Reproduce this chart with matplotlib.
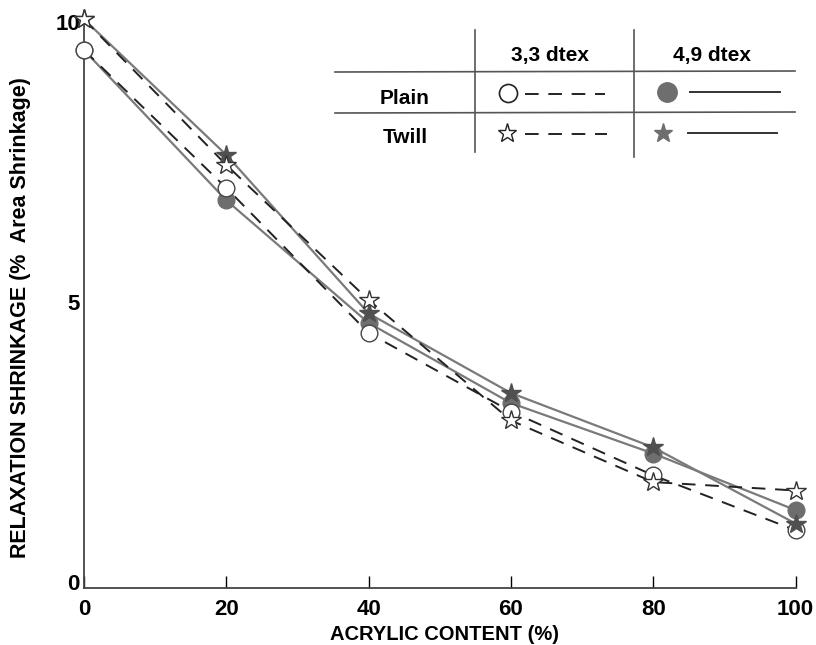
import numpy as np
import matplotlib
matplotlib.use('Agg')
import matplotlib.pyplot as plt
from matplotlib.lines import Line2D

plt.rcParams['font.family'] = ['Liberation Sans', 'DejaVu Sans']
plt.rcParams['font.weight'] = 'bold'

# データ
acrylic = [0, 20, 40, 60, 80, 100]
plain_33 = [9.5, 7.04, 4.45, 3.05, 1.91, 0.93]
plain_49 = [9.5, 6.82, 4.63, 3.20, 2.30, 1.29]
twill_33 = [10.05, 7.45, 5.04, 2.89, 1.79, 1.64]
twill_49 = [10.05, 7.63, 4.80, 3.38, 2.41, 1.05]

xticks = [0, 20, 40, 60, 80, 100]
yticks = [0, 5, 10]

GREY = '#6e6e6e'
LGREY = '#7a7a7a'
DASH = (7, 5)

fig = plt.figure(figsize=(8.16, 6.45), dpi=100)
ax = fig.add_axes([0.103, 0.0884, 0.872, 0.8946])

# 線 (4,9 dtex は実線・灰色, 3,3 dtex は破線・黒)
ax.plot(acrylic, plain_49, '-', color=LGREY, lw=1.6, zorder=2)
ax.plot(acrylic, twill_49, '-', color=LGREY, lw=1.6, zorder=2)
ax.plot(acrylic, plain_33, '--', color='#222222', lw=1.4, dashes=DASH, zorder=2)
ax.plot(acrylic, twill_33, '--', color='#222222', lw=1.4, dashes=DASH, zorder=2)

# マーカー
ax.plot(acrylic, plain_49, 'o', ms=12, mfc=GREY, mec=GREY, ls='none', zorder=3, clip_on=False)
ax.plot(acrylic, twill_49, '*', ms=15, mfc='#505050', mec='#505050', ls='none', zorder=4, clip_on=False)
ax.plot(acrylic, plain_33, 'o', ms=12, mfc='white', mec='#444444', mew=1.0, ls='none', zorder=3.5, clip_on=False)
ax.plot(acrylic, twill_33, '*', ms=15, mfc='white', mec='#333333', mew=1.0, ls='none', zorder=5, clip_on=False)

# 範囲・目盛り
ax.set_xlim(0, 100)
ax.set_ylim(-0.1, 10.2)
ax.set_xticks(xticks)
ax.set_yticks(yticks)
ax.tick_params(axis='x', direction='in', length=9, width=1, labelsize=16, pad=8)
ax.tick_params(axis='y', length=0, labelsize=16, pad=3)
for s in ['top', 'right']:
    ax.spines[s].set_visible(False)
for s in ['left', 'bottom']:
    ax.spines[s].set_color('#444444')
    ax.spines[s].set_linewidth(1.3)

# ラベル
W, H = 816, 645
fig.text(445 / W, 1 - 634 / H, 'ACRYLIC CONTENT (%)', ha='center', va='center',
         fontsize=14.5, fontweight='bold')
ax.set_ylabel('RELAXATION SHRINKAGE (%  Area Shrinkage)', fontsize=15.5,
              fontweight='bold', va='center')
ax.yaxis.set_label_coords(-0.09, 0.468)

# 凡例 (表形式)
t = fig.transFigure
fig.add_artist(Line2D([335 / W, 795 / W], [1 - 72 / H, 1 - 71 / H], color='#555555', lw=1.2, transform=t))
fig.add_artist(Line2D([335 / W, 795 / W], [1 - 113 / H, 1 - 112 / H], color='#555555', lw=1.2, transform=t))
fig.add_artist(Line2D([475 / W, 475 / W], [1 - 30 / H, 1 - 152 / H], color='#555555', lw=1.2, transform=t))
fig.add_artist(Line2D([634 / W, 634 / W], [1 - 30 / H, 1 - 157 / H], color='#555555', lw=1.2, transform=t))

fig.text(550 / W, 1 - 55 / H, '3,3 dtex', ha='center', va='center', fontsize=15, fontweight='bold')
fig.text(712 / W, 1 - 55 / H, '4,9 dtex', ha='center', va='center', fontsize=15, fontweight='bold')
fig.text(405 / W, 1 - 98 / H, 'Plain', ha='center', va='center', fontsize=15, fontweight='bold')
fig.text(405 / W, 1 - 137 / H, 'Twill', ha='center', va='center', fontsize=15, fontweight='bold')

fig.add_artist(Line2D([508 / W], [1 - 93 / H], marker='o', ms=13, mfc='white', mec='#222222', mew=1.2, transform=t))
fig.add_artist(Line2D([525 / W, 605 / W], [1 - 94 / H] * 2, ls='--', dashes=DASH, color='#222222', lw=1.4, transform=t))
fig.add_artist(Line2D([667 / W], [1 - 92 / H], marker='o', ms=14, mfc=GREY, mec=GREY, transform=t))
fig.add_artist(Line2D([690 / W, 780 / W], [1 - 92 / H] * 2, color='#333333', lw=1.4, transform=t))
fig.add_artist(Line2D([507 / W], [1 - 133 / H], marker='*', ms=14, mfc='white', mec='#222222', mew=1.0, transform=t))
fig.add_artist(Line2D([525 / W, 607 / W], [1 - 134 / H] * 2, ls='--', dashes=DASH, color='#222222', lw=1.4, transform=t))
fig.add_artist(Line2D([663 / W], [1 - 133 / H], marker='*', ms=14, mfc=GREY, mec=GREY, transform=t))
fig.add_artist(Line2D([688 / W, 777 / W], [1 - 133 / H] * 2, color='#333333', lw=1.4, transform=t))

fig.savefig('out.png', dpi=100)
